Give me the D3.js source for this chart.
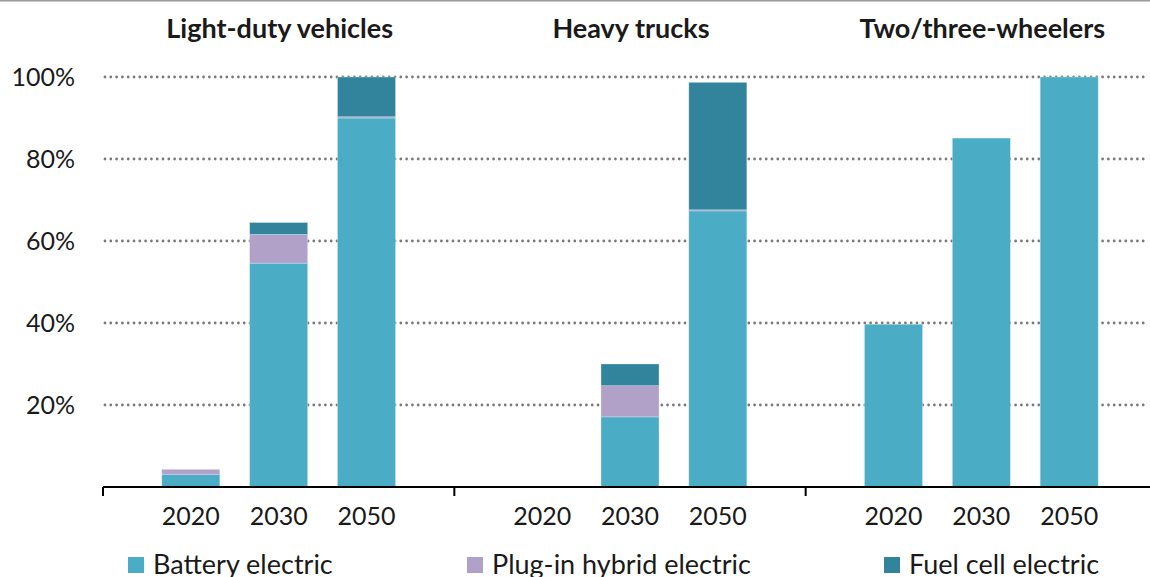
<meta charset="utf-8">
<head>
<script src="https://d3js.org/d3.v7.min.js"></script>
<style>
  body { margin: 0; background: #fff; }
  text { font-family: Lato, "Open Sans", sans-serif; fill: #1a1a1a; }
</style>
</head>
<body>
<div id="container"></div>
<script>

// data (share of sales, %)
var groups = ["Light-duty vehicles", "Heavy trucks", "Two/three-wheelers"];
var years = ["2020", "2030", "2050"];
var series = ["Battery electric", "Plug-in hybrid electric", "Fuel cell electric"];
var colors = ["#4bacc6", "#b1a0c7", "#31849b"];

var battery = [[3.0, 54.6, 90.0], [0, 17.1, 67.4], [39.7, 85.1, 100]];
var phev    = [[1.3, 7.0, 0.3],   [0, 7.6, 0.2],   [0, 0, 0]];
var fcev    = [[0, 2.9, 9.7],     [0, 5.3, 31.1],  [0, 0, 0]];
var yTicks = [20, 40, 60, 80, 100];

var width = 1150, height = 577;
var plotLeft = 103, plotRight = 1157, plotTop = 77, plotBottom = 487;
var barW = 58;

var svg = d3.select('#container')
  .append('svg')
  .attr('width', width)
  .attr('height', height);

// thin grey border line at the very top
svg.append('rect').attr('x', 0).attr('y', 0).attr('width', width).attr('height', 1.5).attr('fill', '#9a9a9a');

var y = d3.scaleLinear().domain([0, 100]).range([plotBottom, plotTop]);
var xg = d3.scaleBand().domain(groups).range([plotLeft, plotRight]).paddingInner(0).paddingOuter(0);
var xi = d3.scalePoint().domain(years).range([0, xg.bandwidth()]).padding(1);

// gridlines
svg.append('g').selectAll('line')
  .data(yTicks)
  .enter().append('line')
  .attr('x1', plotLeft + 2).attr('x2', 1148)
  .attr('y1', d => y(d)).attr('y2', d => y(d))
  .attr('stroke', '#7a7a7a')
  .attr('stroke-width', 2.8)
  .attr('stroke-linecap', 'round')
  .attr('stroke-dasharray', '0,5.8');

// y labels
svg.append('g').selectAll('text')
  .data(yTicks)
  .enter().append('text')
  .attr('x', 75)
  .attr('y', d => y(d))
  .attr('dy', '0.36em')
  .attr('text-anchor', 'end')
  .style('font-size', '25px')
  .text(d => d + '%');

// stacked bars
var rows = [];
groups.forEach(function(g, gi) {
  years.forEach(function(yr, yi) {
    var vals = [battery[gi][yi], phev[gi][yi], fcev[gi][yi]];
    var base = 0;
    vals.forEach(function(v, si) {
      if (v > 0) rows.push({g: g, yr: yr, s: si, y0: base, y1: base + v});
      base += v;
    });
  });
});

svg.append('g').selectAll('rect')
  .data(rows)
  .enter().append('rect')
  .attr('x', d => xg(d.g) + xi(d.yr) - barW / 2)
  .attr('width', barW)
  .attr('y', d => y(d.y1))
  .attr('height', d => Math.max(1.2, y(d.y0) - y(d.y1)))
  .attr('fill', d => colors[d.s])
  .attr('stroke', '#d8eef4')
  .attr('stroke-opacity', 0.6)
  .attr('stroke-width', 0.6);

// x axis line + group ticks
svg.append('line')
  .attr('x1', plotLeft).attr('x2', width)
  .attr('y1', plotBottom).attr('y2', plotBottom)
  .attr('stroke', '#000').attr('stroke-width', 2);

svg.append('g').selectAll('line')
  .data(groups)
  .enter().append('line')
  .attr('x1', d => xg(d)).attr('x2', d => xg(d))
  .attr('y1', plotBottom).attr('y2', plotBottom + 9)
  .attr('stroke', '#000').attr('stroke-width', 2);

// year labels
groups.forEach(function(g) {
  svg.append('g').selectAll('text')
    .data(years)
    .enter().append('text')
    .attr('x', d => xg(g) + xi(d))
    .attr('y', 525)
    .attr('text-anchor', 'middle')
    .style('font-size', '25px')
    .text(d => d);
});

// group titles
svg.append('g').selectAll('text')
  .data(groups)
  .enter().append('text')
  .attr('x', d => xg(d) + xg.bandwidth() / 2 + 1)
  .attr('y', 38)
  .attr('text-anchor', 'middle')
  .style('font-size', '27px')
  .style('font-weight', 'bold')
  .text(d => d);

// legend
var legX = [128, 467, 884];
var leg = svg.append('g').selectAll('g')
  .data(series)
  .enter().append('g')
  .attr('transform', (d, i) => 'translate(' + legX[i] + ',557)');

leg.append('rect')
  .attr('width', 16).attr('height', 16)
  .attr('fill', (d, i) => colors[i]);

leg.append('text')
  .attr('x', 25)
  .attr('y', 17)
  .style('font-size', '27px')
  .text(d => d);

</script>
</body>
